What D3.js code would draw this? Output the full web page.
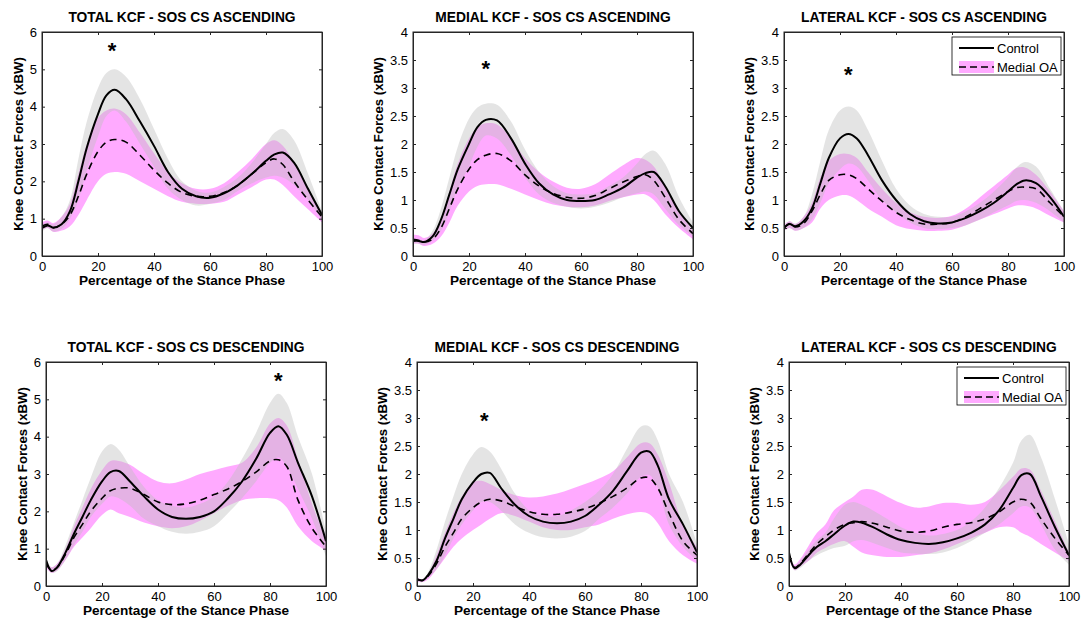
<!DOCTYPE html>
<html><head><meta charset="utf-8">
<script src="https://cdn.jsdelivr.net/npm/d3@7"></script>
<style>
body{margin:0;background:#fff;}
svg{display:block;font-family:"Liberation Sans",Arial,sans-serif;}
</style></head>
<body><svg id="c" width="1083" height="624"></svg>
<script>
// ---- data ----
const stancePct = [0,2,4,7,10,13,16,20,23,26,30,35,40,45,50,55,60,65,70,75,80,83,86,90,95,100];

const titles = ["TOTAL KCF - SOS CS ASCENDING","MEDIAL KCF - SOS CS ASCENDING","LATERAL KCF - SOS CS ASCENDING",
                "TOTAL KCF - SOS CS DESCENDING","MEDIAL KCF - SOS CS DESCENDING","LATERAL KCF - SOS CS DESCENDING"];
const xTicks = [0,20,40,60,80,100];
const yTicksTotal = [0,1,2,3,4,5,6];
const yTicksCompartment = [0,0.5,1,1.5,2,2.5,3,3.5,4];
const legendLabels = ["Control","Medial OA"];

// Total KCF ascending
const totAscCtrl   = [0.75,0.82,0.76,0.85,1.2,2.0,2.9,3.8,4.3,4.45,4.2,3.6,2.95,2.25,1.8,1.6,1.56,1.68,1.9,2.2,2.55,2.72,2.77,2.5,1.8,1.1];
const totAscCtrlHi = [0.85,0.9,0.85,1.05,1.5,2.6,3.6,4.5,4.9,5.0,4.8,4.2,3.4,2.6,2.0,1.75,1.7,1.85,2.1,2.5,3.0,3.3,3.4,3.1,2.2,1.2];
const totAscCtrlLo = [0.65,0.75,0.65,0.72,1.0,1.5,2.3,3.2,3.75,3.9,3.6,3.0,2.4,1.8,1.5,1.35,1.4,1.5,1.75,1.95,2.1,2.15,2.1,1.9,1.5,0.95];
const totAscOA     = [0.8,0.85,0.76,0.85,1.1,1.6,2.2,2.8,3.05,3.12,3.05,2.7,2.3,1.95,1.7,1.6,1.6,1.7,1.9,2.2,2.5,2.6,2.45,2.0,1.5,1.05];
const totAscOAHi   = [0.9,0.95,0.88,1.05,1.4,2.2,3.0,3.7,3.9,3.95,3.8,3.3,2.75,2.25,1.95,1.8,1.8,1.95,2.25,2.6,3.0,3.1,2.95,2.5,1.8,1.1];
const totAscOALo   = [0.7,0.75,0.65,0.68,0.8,1.1,1.5,2.0,2.2,2.25,2.2,2.0,1.8,1.6,1.45,1.4,1.4,1.45,1.65,1.85,2.05,2.05,1.9,1.6,1.25,0.9];

// Medial KCF ascending
const medAscCtrl   = [0.27,0.27,0.25,0.35,0.65,1.1,1.55,2.0,2.3,2.43,2.42,2.1,1.65,1.3,1.1,1.0,0.98,1.0,1.1,1.22,1.4,1.48,1.5,1.25,0.8,0.5];
const medAscCtrlHi = [0.3,0.3,0.28,0.45,0.85,1.4,1.95,2.45,2.65,2.72,2.7,2.4,1.9,1.5,1.25,1.12,1.1,1.12,1.25,1.4,1.65,1.82,1.88,1.65,1.05,0.6];
const medAscCtrlLo = [0.22,0.22,0.2,0.28,0.45,0.8,1.2,1.6,1.95,2.15,2.1,1.8,1.4,1.1,0.95,0.88,0.85,0.88,0.95,1.05,1.12,1.15,1.1,0.85,0.55,0.35];
const medAscOA     = [0.3,0.28,0.25,0.3,0.5,0.85,1.2,1.55,1.72,1.8,1.83,1.7,1.45,1.25,1.12,1.05,1.03,1.08,1.2,1.32,1.42,1.45,1.35,1.05,0.65,0.4];
const medAscOAHi   = [0.38,0.37,0.32,0.4,0.65,1.15,1.65,2.1,2.3,2.37,2.35,2.1,1.75,1.5,1.33,1.22,1.2,1.28,1.45,1.62,1.75,1.72,1.6,1.25,0.8,0.45];
const medAscOALo   = [0.22,0.22,0.18,0.22,0.35,0.6,0.9,1.15,1.25,1.28,1.28,1.2,1.1,1.0,0.92,0.88,0.87,0.9,0.98,1.05,1.1,1.1,1.0,0.75,0.5,0.3];

// Lateral KCF ascending
const latAscCtrl   = [0.5,0.57,0.53,0.62,0.85,1.3,1.75,2.1,2.18,2.1,1.8,1.35,1.0,0.75,0.62,0.58,0.6,0.68,0.8,0.95,1.15,1.28,1.35,1.3,1.05,0.7];
const latAscCtrlHi = [0.55,0.62,0.58,0.7,1.1,1.7,2.25,2.6,2.67,2.6,2.25,1.7,1.2,0.9,0.75,0.7,0.7,0.8,0.95,1.15,1.4,1.58,1.68,1.6,1.2,0.8];
const latAscCtrlLo = [0.45,0.5,0.45,0.5,0.65,0.95,1.3,1.55,1.65,1.6,1.35,1.0,0.78,0.6,0.5,0.48,0.5,0.55,0.65,0.78,0.9,0.98,1.0,0.95,0.8,0.6];
const latAscOA     = [0.5,0.58,0.52,0.58,0.8,1.1,1.35,1.45,1.45,1.38,1.2,0.98,0.78,0.65,0.57,0.57,0.6,0.7,0.85,1.0,1.15,1.22,1.23,1.2,0.95,0.7];
const latAscOAHi   = [0.55,0.62,0.57,0.7,0.95,1.4,1.7,1.82,1.82,1.75,1.5,1.2,0.95,0.78,0.7,0.68,0.72,0.85,1.05,1.25,1.45,1.57,1.58,1.45,1.15,0.8];
const latAscOALo   = [0.45,0.5,0.45,0.5,0.6,0.85,1.0,1.08,1.08,1.0,0.85,0.7,0.55,0.48,0.45,0.45,0.47,0.55,0.65,0.75,0.85,0.9,0.9,0.85,0.72,0.6];

// Total KCF descending
const totDesCtrl   = [0.7,0.4,0.5,0.9,1.4,1.85,2.3,2.8,3.05,3.08,2.8,2.4,2.05,1.85,1.8,1.85,2.0,2.35,2.8,3.4,4.1,4.28,4.05,3.3,2.4,1.2];
const totDesCtrlHi = [0.75,0.5,0.6,1.1,1.7,2.3,2.9,3.6,3.8,3.65,3.2,2.65,2.3,2.15,2.1,2.2,2.4,2.8,3.4,4.1,4.9,5.15,4.9,4.0,3.0,1.45];
const totDesCtrlLo = [0.55,0.35,0.4,0.7,1.1,1.45,1.85,2.2,2.4,2.35,2.15,1.8,1.6,1.45,1.4,1.45,1.6,1.95,2.35,2.8,3.3,3.45,3.2,2.6,1.8,0.8];
const totDesOA     = [0.6,0.42,0.5,0.85,1.3,1.65,2.0,2.35,2.55,2.62,2.62,2.45,2.25,2.18,2.2,2.3,2.45,2.6,2.8,3.05,3.35,3.38,3.2,2.3,1.55,1.05];
const totDesOAHi   = [0.65,0.5,0.6,1.0,1.6,2.1,2.6,3.1,3.35,3.35,3.25,3.0,2.8,2.75,2.85,3.0,3.1,3.2,3.3,3.7,4.35,4.5,4.3,3.4,2.2,1.25];
const totDesOALo   = [0.5,0.35,0.42,0.7,1.05,1.3,1.55,1.9,2.05,1.95,1.85,1.7,1.6,1.55,1.6,1.75,1.95,2.15,2.3,2.35,2.35,2.3,2.1,1.6,1.2,0.95];

// Medial KCF descending
const medDesCtrl   = [0.12,0.1,0.2,0.45,0.85,1.2,1.55,1.85,2.0,2.02,1.75,1.45,1.25,1.15,1.12,1.15,1.25,1.45,1.7,2.05,2.38,2.4,2.15,1.55,1.1,0.6];
const medDesCtrlHi = [0.15,0.12,0.25,0.65,1.15,1.6,2.0,2.35,2.48,2.4,2.1,1.65,1.35,1.25,1.25,1.35,1.5,1.7,2.0,2.45,2.85,2.85,2.6,2.0,1.5,0.75];
const medDesCtrlLo = [0.08,0.07,0.15,0.3,0.55,0.85,1.1,1.35,1.5,1.5,1.35,1.1,0.95,0.87,0.85,0.88,0.98,1.2,1.4,1.65,1.95,1.98,1.75,1.1,0.7,0.45];
const medDesOA     = [0.12,0.1,0.18,0.4,0.7,0.95,1.2,1.4,1.5,1.55,1.52,1.42,1.33,1.28,1.28,1.32,1.38,1.48,1.6,1.75,1.93,1.93,1.75,1.3,0.8,0.55];
const medDesOAHi   = [0.15,0.12,0.22,0.55,0.95,1.3,1.6,1.85,1.88,1.82,1.72,1.62,1.58,1.6,1.65,1.73,1.82,1.92,2.05,2.3,2.55,2.55,2.35,1.85,1.1,0.7];
const medDesOALo   = [0.08,0.07,0.12,0.3,0.5,0.7,0.85,1.0,1.1,1.2,1.3,1.25,1.15,1.05,1.0,1.0,1.05,1.1,1.2,1.28,1.32,1.28,1.12,0.8,0.55,0.4];

// Lateral KCF descending
const latDesCtrl   = [0.6,0.32,0.38,0.55,0.7,0.8,0.92,1.08,1.15,1.13,1.05,0.92,0.82,0.77,0.75,0.78,0.85,0.95,1.1,1.35,1.75,1.98,2.0,1.6,1.05,0.55];
const latDesCtrlHi = [0.65,0.35,0.45,0.65,0.82,0.95,1.2,1.45,1.5,1.45,1.35,1.2,1.05,0.95,0.9,0.93,1.0,1.15,1.4,1.75,2.2,2.6,2.7,2.3,1.55,0.75];
const latDesCtrlLo = [0.55,0.28,0.32,0.45,0.55,0.62,0.68,0.72,0.8,0.82,0.77,0.68,0.6,0.58,0.57,0.6,0.68,0.8,0.95,1.1,1.3,1.42,1.4,1.1,0.65,0.38];
const latDesOA     = [0.55,0.33,0.4,0.58,0.75,0.88,1.0,1.1,1.13,1.15,1.12,1.05,0.98,0.96,0.98,1.05,1.1,1.13,1.2,1.32,1.5,1.55,1.5,1.2,0.85,0.55];
const latDesOAHi   = [0.6,0.38,0.48,0.72,0.95,1.1,1.35,1.5,1.6,1.72,1.72,1.6,1.48,1.4,1.42,1.48,1.48,1.45,1.5,1.7,1.95,2.1,2.08,1.7,1.15,0.6];
const latDesOALo   = [0.5,0.28,0.35,0.45,0.6,0.68,0.75,0.8,0.7,0.6,0.55,0.52,0.52,0.55,0.58,0.65,0.75,0.85,0.95,1.05,1.05,0.95,0.88,0.75,0.6,0.45];

// significance markers: [x, y] per panel (null = none)
const starMarks = [[25,5.55],[26,3.38],[23,3.27],[83,5.55],[24,2.98],null];

// ---- build ----
const panelData = [
  {ctrl:totAscCtrl,hi:totAscCtrlHi,lo:totAscCtrlLo,oa:totAscOA,oaHi:totAscOAHi,oaLo:totAscOALo,yMax:6,yTicks:yTicksTotal},
  {ctrl:medAscCtrl,hi:medAscCtrlHi,lo:medAscCtrlLo,oa:medAscOA,oaHi:medAscOAHi,oaLo:medAscOALo,yMax:4,yTicks:yTicksCompartment},
  {ctrl:latAscCtrl,hi:latAscCtrlHi,lo:latAscCtrlLo,oa:latAscOA,oaHi:latAscOAHi,oaLo:latAscOALo,yMax:4,yTicks:yTicksCompartment,legend:true},
  {ctrl:totDesCtrl,hi:totDesCtrlHi,lo:totDesCtrlLo,oa:totDesOA,oaHi:totDesOAHi,oaLo:totDesOALo,yMax:6,yTicks:yTicksTotal},
  {ctrl:medDesCtrl,hi:medDesCtrlHi,lo:medDesCtrlLo,oa:medDesOA,oaHi:medDesOAHi,oaLo:medDesOALo,yMax:4,yTicks:yTicksCompartment},
  {ctrl:latDesCtrl,hi:latDesCtrlHi,lo:latDesCtrlLo,oa:latDesOA,oaHi:latDesOAHi,oaLo:latDesOALo,yMax:4,yTicks:yTicksCompartment,legend:true}
];
const layout = [
  {l:42,t:32},{l:413,t:32},{l:784,t:32},
  {l:46,t:362},{l:417,t:362},{l:789,t:362}
];
const W = 280, H = 224;
const axisCol = "#262626";
const pinkFill = "rgb(255,170,255)";

const svg = d3.select("#c");

panelData.forEach((p, i) => {
  const L = layout[i];
  const g = svg.append("g").attr("transform", `translate(${L.l},${L.t})`);
  const x = d3.scaleLinear().domain([0,100]).range([0,W]);
  const y = d3.scaleLinear().domain([0,p.yMax]).range([H,0]);
  const curve = d3.curveCatmullRom.alpha(0.5);
  const area = (hi, lo) => d3.area().x((d,k)=>x(stancePct[k])).y0((d,k)=>y(lo[k])).y1((d,k)=>y(hi[k])).curve(curve)(stancePct);
  const line = (vals) => d3.line().x((d,k)=>x(stancePct[k])).y((d,k)=>y(vals[k])).curve(curve)(stancePct);

  const clipId = "clip"+i;
  g.append("clipPath").attr("id",clipId).append("rect").attr("width",W).attr("height",H);
  const plot = g.append("g").attr("clip-path",`url(#${clipId})`);

  plot.append("path").attr("d", area(p.oaHi,p.oaLo)).attr("fill",pinkFill);
  plot.append("path").attr("d", area(p.hi,p.lo)).attr("fill","rgb(190,190,190)").attr("fill-opacity",0.41);
  plot.append("path").attr("d", line(p.ctrl)).attr("fill","none").attr("stroke","#000").attr("stroke-width",2);
  plot.append("path").attr("d", line(p.oa)).attr("fill","none").attr("stroke","#000").attr("stroke-width",1.6).attr("stroke-dasharray","7,5");

  // axes (MATLAB box style with inward ticks)
  const ax = d3.axisBottom(x).tickValues(xTicks).tickSizeInner(-3).tickSizeOuter(0).tickPadding(6);
  const gx = g.append("g").attr("transform",`translate(0,${H})`).call(ax);
  const ay = d3.axisLeft(y).tickValues(p.yTicks).tickSizeInner(-3).tickSizeOuter(0).tickPadding(5)
              .tickFormat(d=>String(d));
  const gy = g.append("g").call(ay);
  const gxT = g.append("g").call(d3.axisTop(x).tickValues(xTicks).tickSizeInner(-3).tickSizeOuter(0).tickFormat(""));
  const gyR = g.append("g").attr("transform",`translate(${W},0)`).call(d3.axisRight(y).tickValues(p.yTicks).tickSizeInner(-3).tickSizeOuter(0).tickFormat(""));
  [gx,gy,gxT,gyR].forEach(a=>{
    a.select(".domain").attr("stroke",axisCol);
    a.selectAll(".tick line").attr("stroke",axisCol);
    a.selectAll("text").attr("fill","#000").style("font-size","13px").style("font-family","'Liberation Sans',Arial,sans-serif");
  });
  g.append("rect").attr("width",W).attr("height",H).attr("fill","none").attr("stroke",axisCol).attr("stroke-width",1);

  // title & labels
  g.append("text").attr("x",W/2).attr("y",-10).attr("text-anchor","middle")
    .style("font-size","13.8px").style("font-weight","bold").text(titles[i]);
  g.append("text").attr("x",W/2).attr("y",H+29).attr("text-anchor","middle")
    .style("font-size","13.6px").style("font-weight","bold").text("Percentage of the Stance Phase");
  const yLabOff = p.yMax === 6 ? -19 : -30;
  g.append("text").attr("transform",`translate(${yLabOff},${H/2}) rotate(-90)`).attr("text-anchor","middle")
    .style("font-size","13.2px").style("font-weight","bold").text("Knee Contact Forces (xBW)");

  // star
  if (starMarks[i]) {
    g.append("text").attr("x",x(starMarks[i][0])).attr("y",y(starMarks[i][1])+9).attr("text-anchor","middle")
      .style("font-size","22px").style("font-weight","bold").text("*");
  }

  // legend
  if (p.legend) {
    const lg = g.append("g").attr("transform",`translate(${W-112},5)`);
    lg.append("rect").attr("width",109).attr("height",38).attr("fill","#fff").attr("stroke","#000").attr("stroke-width",0.8);
    lg.append("line").attr("x1",7).attr("x2",42).attr("y1",11).attr("y2",11).attr("stroke","#000").attr("stroke-width",2);
    lg.append("rect").attr("x",7).attr("y",24).attr("width",35).attr("height",12).attr("fill",pinkFill);
    lg.append("line").attr("x1",7).attr("x2",42).attr("y1",30).attr("y2",30).attr("stroke","#000").attr("stroke-width",1.6).attr("stroke-dasharray","7,4");
    lg.append("text").attr("x",45).attr("y",15.5).style("font-size","13px").text(legendLabels[0]);
    lg.append("text").attr("x",45).attr("y",34.5).style("font-size","13px").text(legendLabels[1]);
  }
});
</script></body></html>
